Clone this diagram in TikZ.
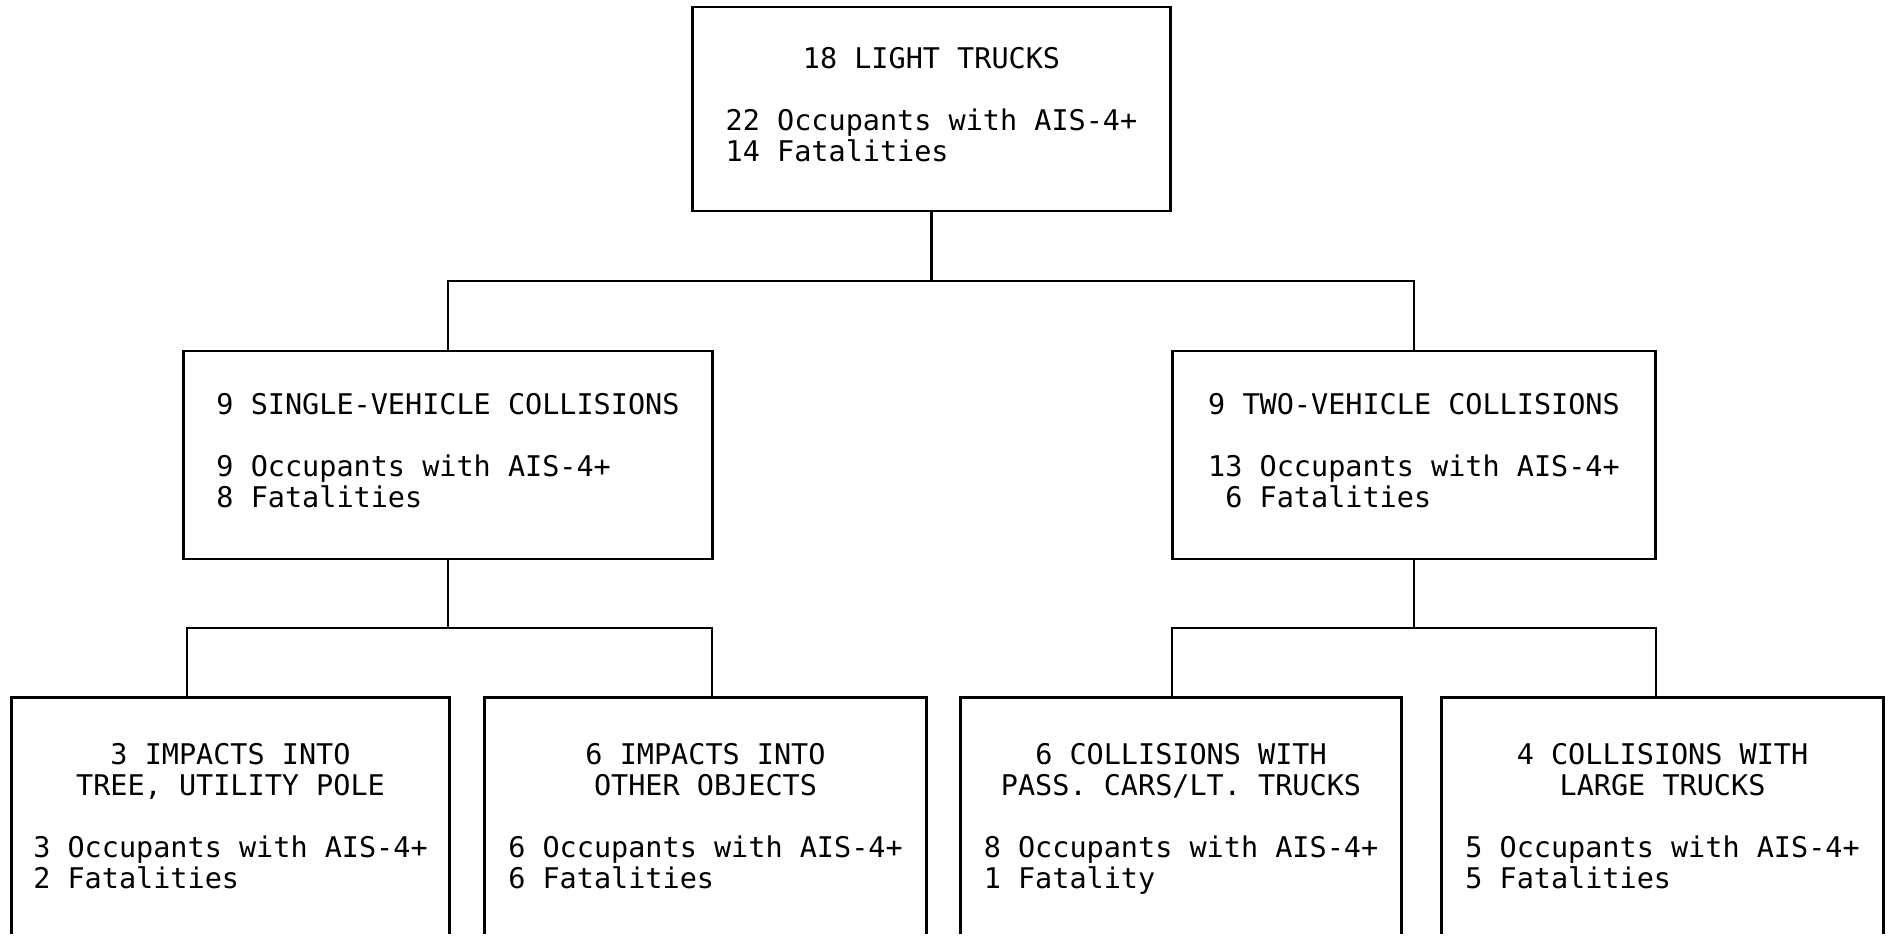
\documentclass[tikz,border=0pt]{standalone}
\usepackage{fontspec}
\setmainfont{DejaVu Sans Mono}
\newcommand{\crashtext}[3][c]{\begin{tabular}{@{}#1@{}}#2\\ \\ \begin{tabular}[t]{@{}l@{}}#3\end{tabular}\end{tabular}}
\begin{document}
\begin{tikzpicture}[x=0.01cm, y=-0.01cm, line width=0.8pt,
   crash/.style={draw, inner sep=0pt, font=\fontsize{8.1}{8.8}\selectfont},
   leaf/.style={crash, anchor=north, minimum height=2.46cm}]
   \useasboundingbox (0,0) rectangle (1889,935);
   \clip (-10,-10) rectangle (1899,933);
   % top
   \node[crash, minimum width=4.77cm, minimum height=2.04cm] (trucks) at (931.5,109)
      {\crashtext{18 LIGHT TRUCKS}{22 Occupants with AIS-4+\\14 Fatalities}};
   % middle row
   \node[crash, minimum width=5.29cm, minimum height=2.08cm] (single) at (448,455)
      {\crashtext[l]{9 SINGLE-VEHICLE COLLISIONS}{9 Occupants with AIS-4+\\8 Fatalities}};
   \node[crash, minimum width=4.82cm, minimum height=2.08cm] (two) at (1414,455)
      {\crashtext[l]{9 TWO-VEHICLE COLLISIONS}{13 Occupants with AIS-4+\\\phantom{1}6 Fatalities}};
   % bottom row
   \node[leaf, minimum width=4.37cm] (tree) at (230.5,696)
      {\crashtext{3 IMPACTS INTO\\TREE, UTILITY POLE}{3 Occupants with AIS-4+\\2 Fatalities}};
   \node[leaf, minimum width=4.41cm] (other) at (705.5,696)
      {\crashtext{6 IMPACTS INTO\\OTHER OBJECTS}{6 Occupants with AIS-4+\\6 Fatalities}};
   \node[leaf, minimum width=4.40cm] (pass) at (1181,696)
      {\crashtext{6 COLLISIONS WITH\\PASS. CARS/LT. TRUCKS}{8 Occupants with AIS-4+\\1 Fatality}};
   \node[leaf, minimum width=4.41cm] (large) at (1662.5,696)
      {\crashtext{4 COLLISIONS WITH\\LARGE TRUCKS}{5 Occupants with AIS-4+\\5 Fatalities}};
   % bus lines
   \coordinate (topbus) at (0,281);
   \coordinate (treedrop) at (187,628);
   \coordinate (otherdrop) at (712,628);
   \coordinate (passdrop) at (1172,628);
   \coordinate (largedrop) at (1656,628);
   \draw (trucks.south) -- (trucks.south |- topbus);
   \draw (single.north) |- (topbus -| two.north) -- (two.north);
   \draw (single.south) -- (single.south |- treedrop);
   \draw (tree.north -| treedrop) -- (treedrop) -- (otherdrop) -- (other.north -| otherdrop);
   \draw (two.south) -- (two.south |- passdrop);
   \draw (pass.north -| passdrop) -- (passdrop) -- (largedrop) -- (large.north -| largedrop);
\end{tikzpicture}
\end{document}
